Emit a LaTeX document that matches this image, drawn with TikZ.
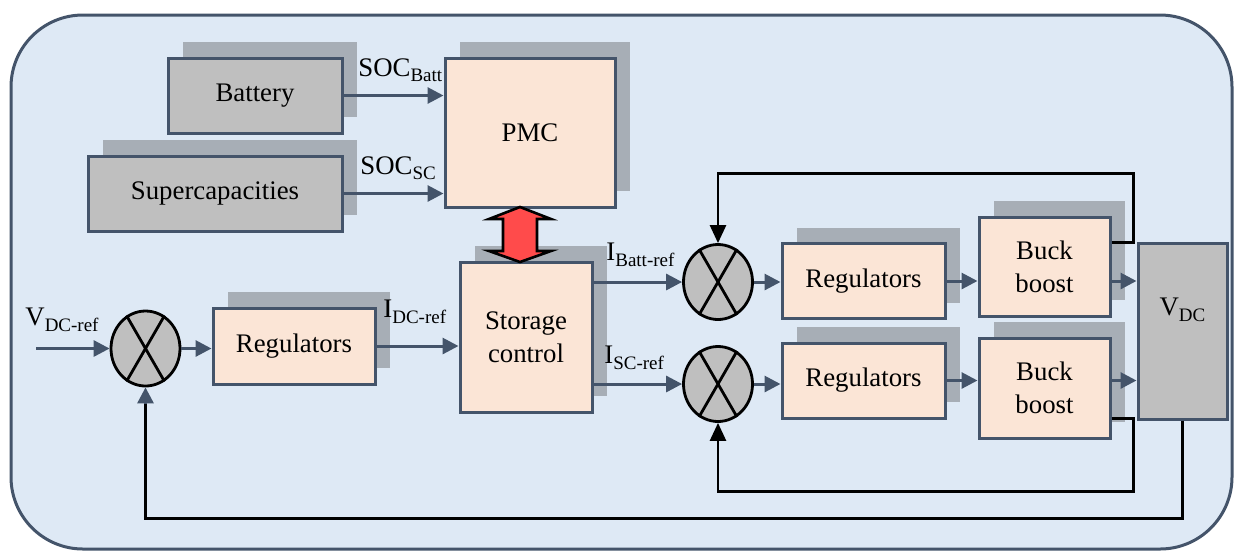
\documentclass[tikz,border=0pt]{standalone}
\usepackage{fontspec}
\setmainfont{Liberation Serif}
\usepackage{xcolor}
\usetikzlibrary{shapes,arrows.meta,positioning,calc,shadows}

\definecolor{slate}{HTML}{44546A}
\definecolor{peach}{HTML}{FBE5D6}
\definecolor{boxgray}{HTML}{BFBFBF}
\definecolor{shade}{HTML}{A7AEB6}
\definecolor{paleblue}{HTML}{DEE9F5}
\definecolor{redarrow}{HTML}{FF4B4B}

\newcommand{\subtxt}[1]{\raisebox{-0.45ex}{\fontsize{9.5}{10}\selectfont #1}}

\begin{document}
\begin{tikzpicture}[x=0.5pt, y=-0.5pt,
    blk/.style={draw=slate, line width=1.5pt, fill=peach, align=center,
        font=\fontsize{13.4}{16.5}\selectfont,
        drop shadow={shadow xshift=7.5pt, shadow yshift=8pt, fill=shade, opacity=1}},
    grayblk/.style={blk, fill=boxgray},
    summer/.style={draw, ellipse, line width=1.4pt, fill=boxgray, minimum width=34.5pt, minimum height=37.5pt},
    xline/.style={line width=1.4pt},
    arrow/.style={draw=slate, line width=1.5pt, -{Triangle[length=8pt, width=8pt]}},
    fback/.style={line width=1.3pt, -{Triangle[length=9pt, width=8pt]}},
    lbl/.style={anchor=west, inner sep=0pt, font=\fontsize{13.4}{16}\selectfont}
]
    \useasboundingbox (0,0) rectangle (1237,554);
    \draw[draw=slate, line width=1.5pt, fill=paleblue, rounded corners=36pt] (11,15) rectangle (1232,549);

    % sources and management
    \node[grayblk, minimum width=87pt, minimum height=37.5pt] (batt) at (255,95.5) {Battery};
    \node[grayblk, minimum width=127pt, minimum height=37.5pt] (supcap) at (215,193.5) {Supercapacities};
    \node[blk, minimum width=85pt, minimum height=74.5pt] (pmc) at (530,132.5) {PMC};
    \node[blk, minimum width=66pt, minimum height=75pt] (stor) at (526,337) {Storage\\control};

    % DC bus loop
    \coordinate (vin) at (36,348.5);
    \node[summer] (sumL) at (145.5,348.5) {};
    \node[blk, minimum width=81pt, minimum height=38pt] (regL) at (294,346) {Regulators};

    % current loops
    \node[summer] (sumB) at (718,282) {};
    \node[summer] (sumS) at (718,384) {};
    \node[blk, minimum width=81.5pt, minimum height=37.5pt] (regB) at (863.5,281) {Regulators};
    \node[blk, minimum width=81.5pt, minimum height=37.5pt] (regS) at (863.5,380.5) {Regulators};
    \node[blk, minimum width=65.5pt, minimum height=49.5pt] (bbB) at (1044.5,266.5) {Buck\\boost};
    \node[blk, minimum width=65.5pt, minimum height=50pt] (bbS) at (1044.5,388) {Buck\\boost};
    \node[draw=slate, line width=1.5pt, fill=boxgray, minimum width=44.5pt, minimum height=88pt,
        text height=9.5pt, text depth=25pt, font=\fontsize{13.4}{16}\selectfont] (vdc) at (1182.5,331) {V\subtxt{DC}};

    % crosses
    \foreach \s in {sumL,sumB,sumS}
        \draw[xline] (\s.120) -- (\s.-60) (\s.60) -- (\s.-120);

    % power exchange
    \draw[line width=1.3pt, fill=redarrow, line join=miter] (520,207) -- (551,219) -- (537,219) -- (537,251) -- (551,251)
        -- (520,262) -- (489,251) -- (503,251) -- (503,219) -- (489,219) -- cycle;

    % signals
    \draw[arrow] (batt.east) -- (batt.east -| pmc.west);
    \draw[arrow] (supcap.east) -- (supcap.east -| pmc.west);
    \draw[arrow] (vin) -- (sumL.west);
    \draw[arrow] (sumL.east) -- (sumL.east -| regL.west);
    \draw[arrow] (regL.east) -- (regL.east -| stor.west);
    \draw[arrow] (stor.east |- sumB.west) -- (sumB.west);
    \draw[arrow] (stor.east |- sumS.west) -- (sumS.west);
    \draw[arrow] (sumB.east) -- (sumB.east -| regB.west);
    \draw[arrow] (sumS.east) -- (sumS.east -| regS.west);
    \draw[arrow] (regB.east) -- (regB.east -| bbB.west);
    \draw[arrow] (regS.east) -- (regS.east -| bbS.west);
    \draw[arrow] (bbB.east |- regB.east) -- (vdc.west |- regB.east);
    \draw[arrow] (bbS.east |- regS.east) -- (vdc.west |- regS.east);

    % feedback
    \draw[fback] ($(bbB.north east)+(0,27)$) -- ++(22,0) -- ++(0,-69) -| (sumB.north);
    \draw[fback] ($(bbS.south east)+(0,-21)$) -- ++(22,0) -- ++(0,73) -| (sumS.south);
    \draw[line width=1.3pt] (vdc.south) -- ++(0,98) -| ($(sumL.south)+(0,15)$);
    \draw[arrow] ($(sumL.south)+(0,16)$) -- (sumL.south);

    % labels
    \node[lbl] (socb) at (358,70) {SOC\subtxt{Batt}};
    \node[lbl] (socs) at (360,168) {SOC\subtxt{SC}};
    \node[lbl] (vref) at (25,320) {V\subtxt{DC-ref}};
    \node[lbl] (idc) at (383,312) {I\subtxt{DC-ref}};
    \node[lbl] (ibatt) at (606,255) {I\subtxt{Batt-ref}};
    \node[lbl] (isc) at (604,358) {I\subtxt{SC-ref}};
\end{tikzpicture}
\end{document}
